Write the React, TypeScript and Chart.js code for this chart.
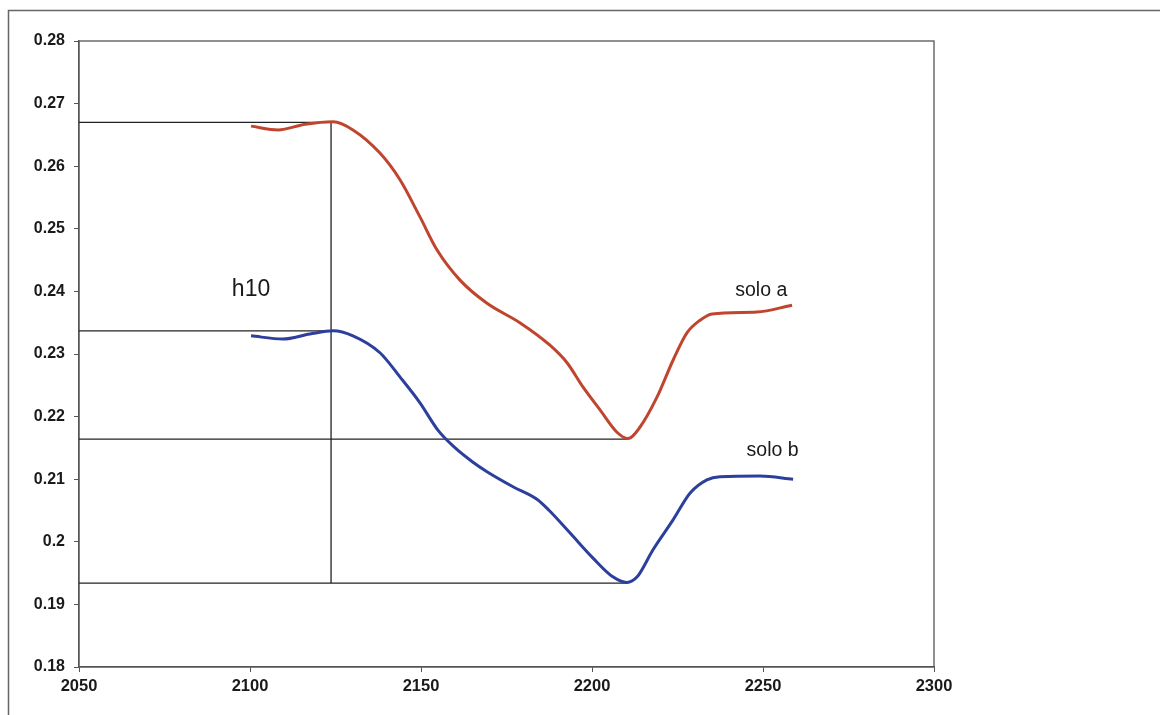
import React, { useEffect, useRef } from "react";
import { Chart, registerables } from "chart.js";

Chart.register(...registerables);

// Wavelength (nm) and reflectance samples for the two soils
const soloAX = [2100.3, 2108.2, 2116.1, 2124.3, 2130.1, 2138.0, 2143.9, 2149.7, 2154.7, 2161.4, 2169.3, 2178.9, 2187.7, 2192.7, 2197.4, 2202.3, 2207.3, 2210.5, 2214.0, 2219.0, 2223.7, 2227.8, 2231.6, 2235.1, 2248.2, 2258.5];
const soloAY = [0.2664, 0.2658, 0.2667, 0.2671, 0.2658, 0.2621, 0.2578, 0.2519, 0.2466, 0.2418, 0.2381, 0.2350, 0.2314, 0.2286, 0.2247, 0.2211, 0.2175, 0.2165, 0.2183, 0.2231, 0.2290, 0.2334, 0.2354, 0.2364, 0.2367, 0.2378];

const soloBX = [2100.3, 2109.6, 2117.5, 2124.3, 2130.1, 2138.0, 2143.9, 2149.7, 2155.0, 2160.0, 2165.0, 2169.3, 2176.9, 2183.9, 2187.5, 2193.6, 2200.3, 2206.1, 2210.2, 2213.2, 2217.8, 2223.7, 2228.7, 2233.6, 2237.4, 2249.1, 2258.8];
const soloBY = [0.2329, 0.2324, 0.2332, 0.2337, 0.2329, 0.2302, 0.2263, 0.2222, 0.2178, 0.2150, 0.2128, 0.2112, 0.2088, 0.2068, 0.2050, 0.2014, 0.1974, 0.1944, 0.1935, 0.1944, 0.1987, 0.2035, 0.2078, 0.2099, 0.2104, 0.2105, 0.2100];

// Band-depth guide lines: shoulder and absorption minimum of each curve
const shoulderX = 2123.7;
const minimumX = 2210.5;
const topA = 0.267;
const topB = 0.2337;
const minA = 0.2164;
const minB = 0.1934;
const guideLeftX = 2050;
const guideTopEndX = 2125.7;

// Axis ranges and ticks
const xMin = 2050;
const xMax = 2300;
const xStep = 50;
const yMin = 0.18;
const yMax = 0.28;
const yStep = 0.01;

// Text annotations [text, x, y, font size]
const annotations: [string, number, number, number][] = [
  ["h10", 2100.3, 0.2402, 23],
  ["solo a", 2249.5, 0.2401, 19.5],
  ["solo b", 2252.8, 0.2146, 19.5],
];

const FONT = '"Liberation Sans", Arial, sans-serif';

const toPoints = (xs: number[], ys: number[]) => xs.map((x, i) => ({ x, y: ys[i] }));

const guide = (pts: { x: number; y: number }[]) => ({
  data: pts,
  borderColor: "#222",
  borderWidth: 1.3,
  pointRadius: 0,
  tension: 0,
  order: 2,
});

export default function App() {
  const ref = useRef<HTMLCanvasElement | null>(null);

  useEffect(() => {
    if (!ref.current) return;

    const framePlugin = {
      id: "frame",
      beforeDraw(chart: any) {
        const ctx = chart.ctx;
        ctx.save();
        ctx.fillStyle = "#ffffff";
        ctx.fillRect(0, 0, chart.width, chart.height);
        ctx.strokeStyle = "#666";
        ctx.lineWidth = 1.5;
        ctx.beginPath();
        ctx.moveTo(8.5, chart.height);
        ctx.lineTo(8.5, 10.5);
        ctx.lineTo(chart.width, 10.5);
        ctx.stroke();
        const a = chart.chartArea;
        ctx.strokeStyle = "#555";
        ctx.lineWidth = 1.3;
        ctx.strokeRect(a.left, a.top, a.right - a.left, a.bottom - a.top);
        ctx.restore();
      },
      afterDatasetsDraw(chart: any) {
        const ctx = chart.ctx;
        const xs = chart.scales.x;
        const ys = chart.scales.y;
        ctx.save();
        ctx.fillStyle = "#1a1a1a";
        ctx.textAlign = "center";
        ctx.textBaseline = "middle";
        for (const [t, x, y, size] of annotations) {
          ctx.font = `${size}px ${FONT}`;
          ctx.fillText(t, xs.getPixelForValue(x), ys.getPixelForValue(y));
        }
        ctx.restore();
      },
    };

    const chart = new Chart(ref.current, {
      type: "line",
      data: {
        datasets: [
          guide([{ x: guideLeftX, y: topA }, { x: guideTopEndX, y: topA }]),
          guide([{ x: shoulderX, y: topA }, { x: shoulderX, y: minB }]),
          guide([{ x: guideLeftX, y: topB }, { x: shoulderX, y: topB }]),
          guide([{ x: guideLeftX, y: minA }, { x: minimumX, y: minA }]),
          guide([{ x: guideLeftX, y: minB }, { x: minimumX, y: minB }]),
          {
            label: "solo a",
            data: toPoints(soloAX, soloAY),
            borderColor: "#c0452e",
            borderWidth: 3,
            pointRadius: 0,
            cubicInterpolationMode: "monotone",
            order: 1,
          },
          {
            label: "solo b",
            data: toPoints(soloBX, soloBY),
            borderColor: "#2c3f9c",
            borderWidth: 3,
            pointRadius: 0,
            cubicInterpolationMode: "monotone",
            order: 1,
          },
        ],
      },
      options: {
        animation: false,
        responsive: false,
        layout: { padding: { left: 0, top: 41, right: 226, bottom: 0 } },
        plugins: { legend: { display: false }, tooltip: { enabled: false } },
        scales: {
          x: {
            type: "linear",
            min: xMin,
            max: xMax,
            afterFit: (s: any) => {
              s.height = 48;
            },
            ticks: {
              stepSize: xStep,
              color: "#1a1a1a",
              padding: 5,
              font: { family: FONT, size: 16.5, weight: "bold" },
              callback: (v: any) => String(v),
            },
            grid: { drawOnChartArea: false, drawTicks: true, tickLength: 5, color: "#555" },
            border: { display: true, color: "#555", width: 1.3 },
          },
          y: {
            type: "linear",
            min: yMin,
            max: yMax,
            afterFit: (s: any) => {
              s.width = 79;
            },
            ticks: {
              stepSize: yStep,
              color: "#1a1a1a",
              padding: 9,
              font: { family: FONT, size: 16, weight: "bold" },
              callback: (v: any) => String(Number(Number(v).toFixed(2))),
            },
            grid: { drawOnChartArea: false, drawTicks: true, tickLength: 5, color: "#555" },
            border: { display: true, color: "#555", width: 1.3 },
          },
        },
      },
      plugins: [framePlugin],
    });

    return () => chart.destroy();
  }, []);

  return (
    <div style={{ position: "fixed", left: 0, top: 0, width: 1160, height: 715, background: "#fff" }}>
      <canvas ref={ref} width={1160} height={715} />
    </div>
  );
}
